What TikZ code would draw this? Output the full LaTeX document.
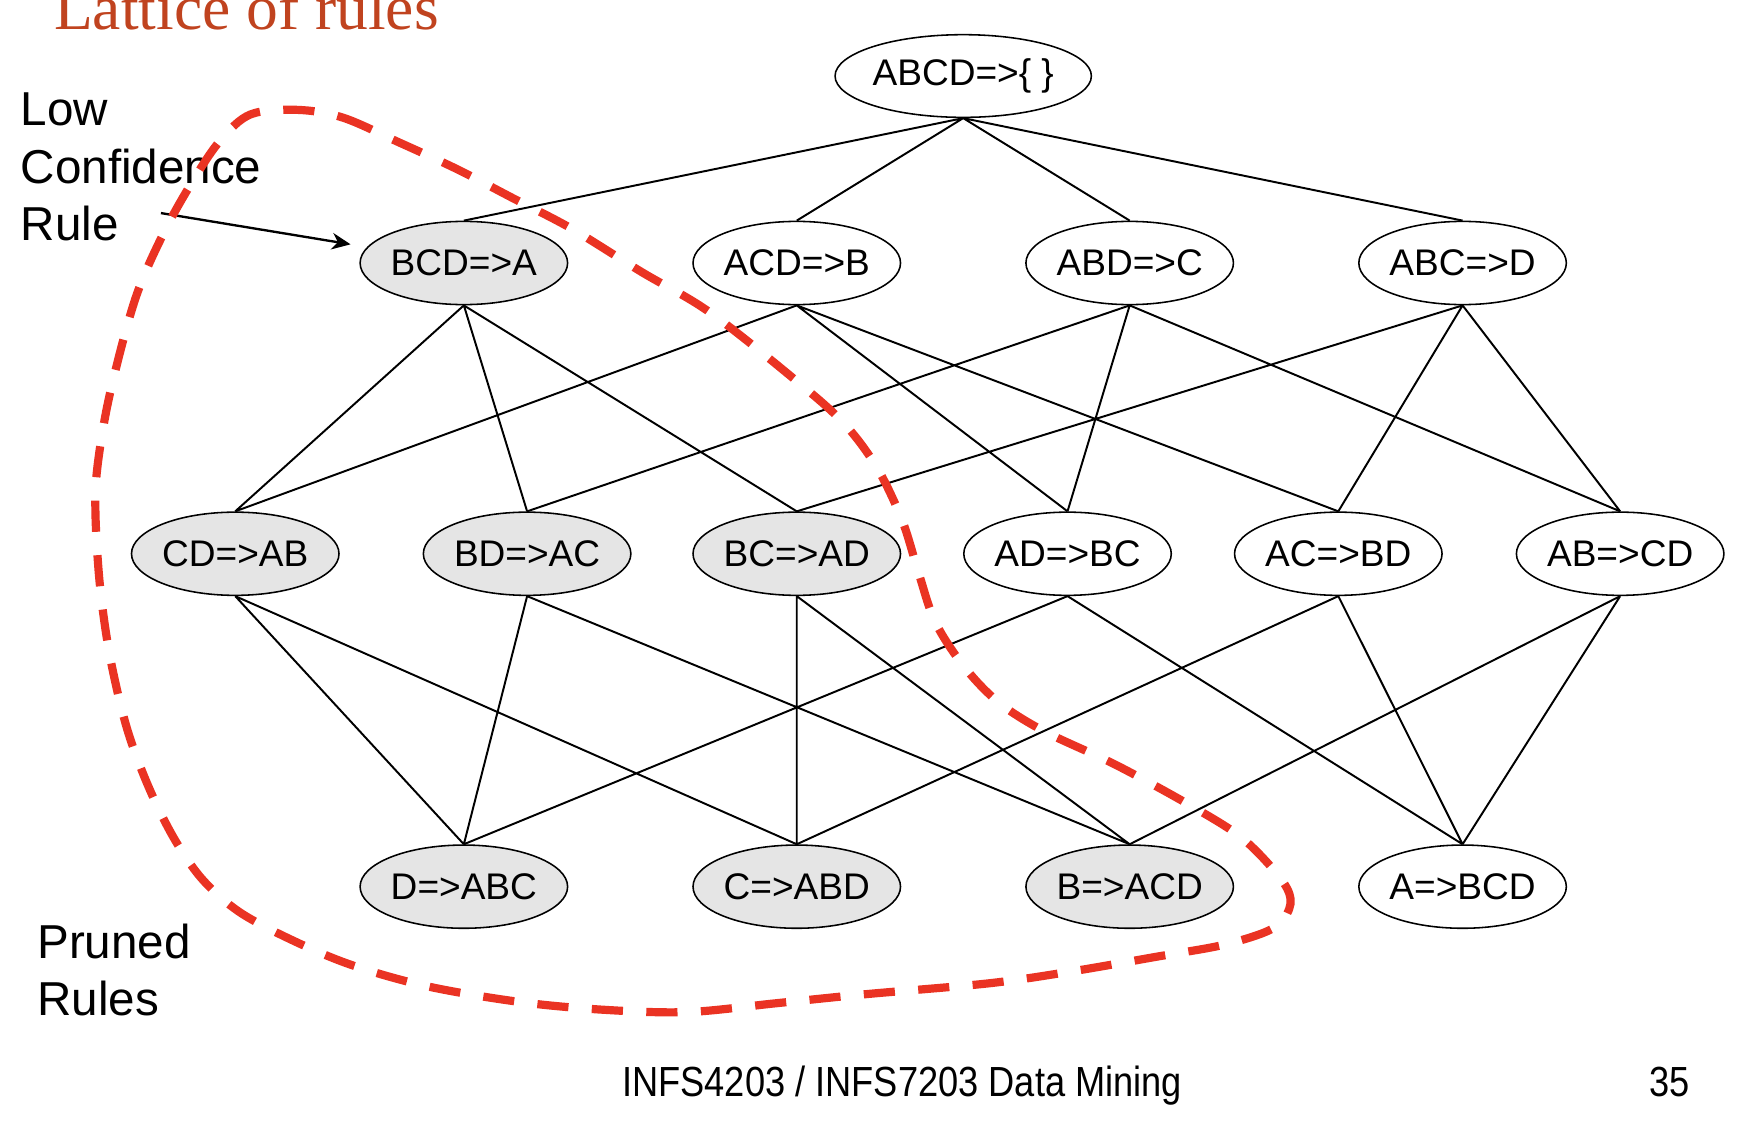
\documentclass[tikz,border=0pt]{standalone}
\usepackage{fontspec}
\setmainfont{Liberation Sans}
\newfontfamily\titlefont{Liberation Serif}
\newfontfamily\footfont[FakeStretch=0.86]{Liberation Sans}
\usetikzlibrary{shapes.geometric,arrows.meta}

\definecolor{titlered}{HTML}{C0431F}
\definecolor{prunered}{HTML}{EA3323}

\tikzset{
	rulebox/.style={ellipse, draw, line width=0.4pt, minimum width=1.87cm, minimum height=0.75cm, inner sep=0pt, font=\fontsize{9.5}{11}\selectfont},
	prunedbox/.style={rulebox, fill=gray!20},
	notetext/.style={align=left, inner sep=0pt, anchor=base west, font=\fontsize{12.2}{14.65}\selectfont}
}

\begin{document}
\begin{tikzpicture}[every node/.style={text centered}]
	\useasboundingbox (0,0) rectangle (15.68,-10.13);

	\node[anchor=base west, inner sep=0pt, text=titlered, font=\titlefont\fontsize{16.3}{18}\selectfont]
		(title) at (0.48,-0.27) {Lattice of rules};

	% the lattice
	\node[rulebox, minimum width=2.25cm, minimum height=0.745cm] (abcd) at (8.68,-0.685) {ABCD=>\{ \}};

	\node[prunedbox]	(bcd) at (4.18,-2.37)	{BCD=>A};
	\node[rulebox]		(acd) at (7.18,-2.37)	{ACD=>B};
	\node[rulebox]		(abd) at (10.18,-2.37)	{ABD=>C};
	\node[rulebox]		(abc) at (13.18,-2.37)	{ABC=>D};

	\node[prunedbox]	(cd) at (2.12,-4.99)	{CD=>AB};
	\node[prunedbox]	(bd) at (4.75,-4.99)	{BD=>AC};
	\node[prunedbox]	(bc) at (7.18,-4.99)	{BC=>AD};
	\node[rulebox]		(ad) at (9.62,-4.99)	{AD=>BC};
	\node[rulebox]		(ac) at (12.06,-4.99)	{AC=>BD};
	\node[rulebox]		(ab) at (14.60,-4.99)	{AB=>CD};

	\node[prunedbox]	(d) at (4.18,-7.99)		{D=>ABC};
	\node[prunedbox]	(c) at (7.18,-7.99)		{C=>ABD};
	\node[prunedbox]	(b) at (10.18,-7.99)	{B=>ACD};
	\node[rulebox]		(a) at (13.18,-7.99)	{A=>BCD};

	\draw[line width=0.5pt]
			(abcd.south) -- (bcd.north)	(abcd.south) -- (acd.north)
			(abcd.south) -- (abd.north)	(abcd.south) -- (abc.north)

			(bcd.south) -- (cd.north)	(bcd.south) -- (bd.north)	(bcd.south) -- (bc.north)
			(acd.south) -- (cd.north)	(acd.south) -- (ad.north)	(acd.south) -- (ac.north)
			(abd.south) -- (bd.north)	(abd.south) -- (ad.north)	(abd.south) -- (ab.north)
			(abc.south) -- (bc.north)	(abc.south) -- (ac.north)	(abc.south) -- (ab.north)

			(cd.south) -- (d.north)	(cd.south) -- (c.north)
			(bd.south) -- (d.north)	(bd.south) -- (b.north)
			(bc.south) -- (c.north)	(bc.south) -- (b.north)
			(ad.south) -- (d.north)	(ad.south) -- (a.north)
			(ac.south) -- (c.north)	(ac.south) -- (a.north)
			(ab.south) -- (b.north)	(ab.south) -- (a.north)
	;

	% labels on the left
	\node[notetext] (lowconf) at (0.18,-2.165) {Low\\Confidence\\Rule};
	\node[notetext] (prunedrules) at (0.33,-9.15) {Pruned\\Rules};

	\coordinate (lowtail) at (1.45,-1.92);
	\draw[line width=0.6pt, -{Stealth[length=1.7mm, width=1.5mm]}, shorten >=0.15cm] (lowtail) -- (bcd);

	% pruned region
	\draw[prunered, line width=2.1pt, dash pattern=on 8pt off 6pt]
		plot[smooth cycle, tension=0.55] coordinates {
			(2.68,-0.99) (3.09,-1.06) (3.60,-1.285) (4.12,-1.525) (4.63,-1.79) (5.15,-2.06)
			(5.78,-2.45) (6.39,-2.81) (7.15,-3.41) (7.60,-3.81) (7.90,-4.21) (8.13,-4.69)
			(8.28,-5.17) (8.43,-5.61) (8.69,-6.01) (9.00,-6.33) (9.41,-6.59) (10.05,-6.89)
			(10.73,-7.26) (11.19,-7.55) (11.52,-7.89) (11.63,-8.10) (11.57,-8.28) (11.40,-8.40)
			(11.00,-8.52) (10.43,-8.62) (9.68,-8.75) (8.92,-8.86) (7.79,-8.96) (7.00,-9.04)
			(6.20,-9.12) (5.45,-9.10) (4.69,-9.03) (3.86,-8.89) (3.18,-8.70) (2.65,-8.48)
			(2.16,-8.22) (1.82,-7.92) (1.56,-7.54) (1.33,-7.07) (1.14,-6.55) (0.99,-5.91)
			(0.90,-5.27) (0.86,-4.62) (0.88,-4.19) (0.99,-3.55) (1.22,-2.69) (1.48,-2.09)
			(1.75,-1.61) (1.99,-1.26) (2.26,-1.03)
		};

	% footer
	\node[anchor=base, inner sep=0pt, font=\footfont\fontsize{10.8}{12}\selectfont] (footer) at (8.13,-9.88)
		{INFS4203 / INFS7203 Data Mining};
	\node[anchor=base east, inner sep=0pt, font=\footfont\fontsize{10.8}{12}\selectfont] (pagenum) at (15.23,-9.88) {35};
\end{tikzpicture}
\end{document}
